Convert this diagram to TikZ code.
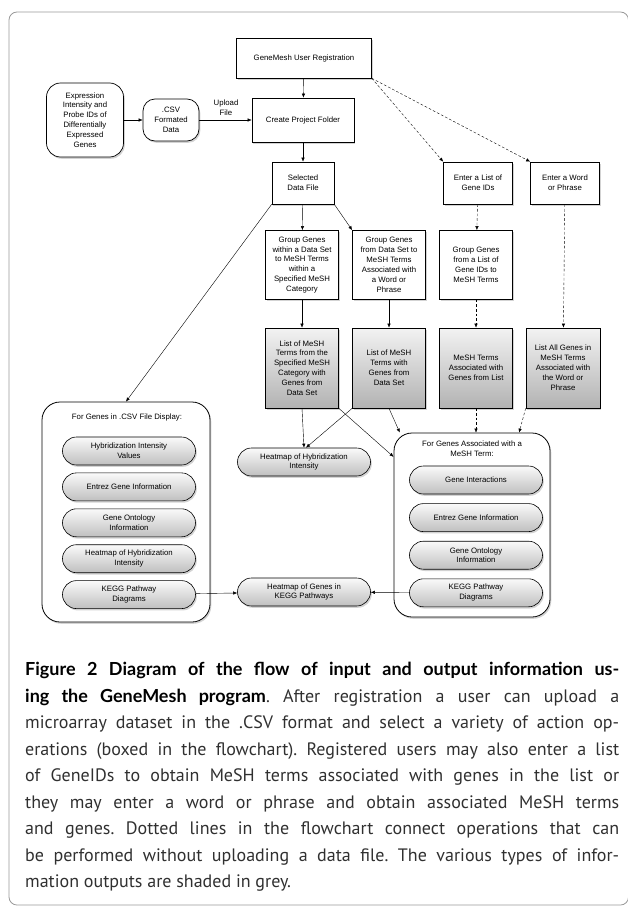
\documentclass[tikz,border=0pt]{standalone}
\usepackage{fontspec}
\usetikzlibrary{positioning,calc,arrows.meta,shadows,shapes.misc}
\newfontfamily\boxfont{Liberation Sans}
\newfontfamily\capfont{PT Sans}
\newfontfamily\capbold{Lato}
\definecolor{framegray}{HTML}{9A9A9A}
\definecolor{captext}{HTML}{303030}
\frenchspacing

\begin{document}
\begin{tikzpicture}[x=1pt,y=-1pt,
	>={Latex[length=4pt,width=3.4pt]},
	every node/.style={font=\boxfont\fontsize{7.8}{9.9}\selectfont, align=center},
	shade/.style={drop shadow={shadow xshift=1.3pt,shadow yshift=-1.8pt,opacity=0.35}},
	action/.style={draw, line width=0.7pt, fill=white, inner sep=1pt, shade},
	output/.style={action, top color=gray!10, bottom color=gray!60},
	pill/.style={draw, rounded rectangle, line width=0.6pt, minimum width=135pt, minimum height=28pt, inner sep=1pt, top color=gray!4, bottom color=gray!50, shade},
	holder/.style={draw, line width=0.8pt, fill=white, rounded corners=18pt, shade},
	dotline/.style={dash pattern=on 2.6pt off 2pt}]
	\useasboundingbox (0,0) rectangle (628,910);
	\draw[framegray, line width=0.8pt, rounded corners=8pt] (9,12) rectangle (628.5,905);
	
	\node[action, minimum width=135pt, minimum height=40pt] (r1) at (304,58) {GeneMesh User Registration};
	\node[draw, line width=0.7pt, fill=white, rounded corners=14pt, minimum width=77pt, minimum height=74pt, shade] (e1) at (85,120) {Expression\\Intensity and\\Probe IDs of\\Differentially\\Expressed\\Genes};
	\node[draw, line width=0.7pt, fill=white, rounded corners=12pt, minimum width=56pt, minimum height=42pt, shade] (e2) at (171,120) {.CSV\\Formated\\Data};
	\node[action, minimum width=102pt, minimum height=44pt] (p1) at (303,120) {Create Project Folder};
	\node (u1) at (226,108) {Upload\\File};
	
	\node[action, minimum width=62pt, minimum height=42pt] (s1) at (303,183) {Selected\\Data File};
	\node[action, minimum width=69pt, minimum height=42pt] (s2) at (478,183) {Enter a List of\\Gene IDs};
	\node[action, minimum width=69pt, minimum height=42pt] (s3) at (565,183) {Enter a Word\\or Phrase};
	
	\node[action, minimum width=73pt, minimum height=69pt] (g1) at (302,265) {Group Genes\\within a Data Set\\to MeSH Terms\\within a\\Specified MeSH\\Category};
	\node[action, minimum width=73pt, minimum height=69pt] (g2) at (389,265) {Group Genes\\from Data Set to\\MeSH Terms\\Associated with\\a Word or\\Phrase};
	\node[action, minimum width=73pt, minimum height=69pt] (g3) at (476,265) {Group Genes\\from a List of\\Gene IDs to\\MeSH Terms};
	
	\node[output, minimum width=73pt, minimum height=80pt] (o1) at (302,368) {List of MeSH\\Terms from the\\Specified MeSH\\Category with\\Genes from\\Data Set};
	\node[output, minimum width=73pt, minimum height=80pt] (o2) at (389,368) {List of MeSH\\Terms with\\Genes from\\Data Set};
	\node[output, minimum width=73pt, minimum height=80pt] (o3) at (476,368) {MeSH Terms\\Associated with\\Genes from List};
	\node[output, minimum width=74pt, minimum height=80pt] (o4) at (563,368) {List All Genes in\\MeSH Terms\\Associated with\\the Word or\\Phrase};
	
	\node[holder, minimum width=168pt, minimum height=220pt] (c1) at (126,512) {};
	\node[holder, minimum width=156pt, minimum height=184pt] (c2) at (472,525) {};
	\node (t1) at (127,417) {For Genes in .CSV File Display:};
	\node (t2) at (472,449) {For Genes Associated with a\\MeSH Term:};
	
	\node[pill] (l1) at (129,451) {Hybridization Intensity\\Values};
	\node[pill, below=7.3pt of l1] (l2) {Entrez Gene Information};
	\node[pill, below=7.3pt of l2] (l3) {Gene Ontology\\Information};
	\node[pill, below=7.3pt of l3] (l4) {Heatmap of Hybridization\\Intensity};
	\node[pill, below=7.3pt of l4] (l5) {KEGG Pathway\\Diagrams};
	
	\node[pill] (m1) at (476,480) {Gene Interactions};
	\node[pill, below=9pt of m1] (m2) {Entrez Gene Information};
	\node[pill, below=9pt of m2] (m3) {Gene Ontology\\Information};
	\node[pill, below=9pt of m3] (m4) {KEGG Pathway\\Diagrams};
	
	\node[pill] (h1) at (304,462) {Heatmap of Hybridization\\Intensity};
	\node[pill] (k1) at (304,592) {Heatmap of Genes in\\KEGG Pathways};
	
	\draw[->] (r1) -- (p1);
	\draw[->] (e1) -- (e2);
	\draw[->] (e2) -- (p1);
	\draw[->] (p1) -- (s1);
	\draw[->] (s1.south west) -- (c1.north);
	\draw[->] (s1) -- (g1);
	\draw[->] (s1.south east) -- (g2.north west);
	\draw[->] (g1) -- (o1);
	\draw[->] (g2) -- (o2);
	\draw[->] (o1.south) -- (h1.north);
	\draw[->] (o1.south east) -- (c2.139);
	\draw[->] (o2.south west) -- ($(h1.north)+(2,0)$);
	\draw[->] (o2.south) -- (c2.128);
	\draw[->] (l5) -- (k1);
	\draw[->] (m4) -- (k1);
	
	\draw[->, dotline] (r1.south east) -- (s2.north west);
	\draw[->, dotline] (r1.south east) -- (s3.north west);
	\draw[->, dotline] (s2) -- (g3);
	\draw[->, dotline] (s3) -- (o4);
	\draw[->, dotline] (g3) -- (o3);
	\draw[->, dotline] (o3.south) -- (o3.south |- c2.north);
	\draw[->, dotline] (o4.south west) -- (c2.63);
	
	\node[anchor=north west, text width=594pt, align=justify, inner sep=0pt, text=captext,
		font=\capfont\fontsize{18}{26.5}\selectfont] (f1) at (25,662)
		{{\capbold\bfseries\color{black}Figure 2 Diagram of the flow of input and output information us-\linebreak ing the GeneMesh program}. After registration a user can upload a\linebreak microarray dataset in the .CSV format and select a variety of action op-\linebreak erations (boxed in the flowchart). Registered users may also enter a list\linebreak of GeneIDs to obtain MeSH terms associated with genes in the list or\linebreak they may enter a word or phrase and obtain associated MeSH terms\linebreak and genes. Dotted lines in the flowchart connect operations that can\linebreak be performed without uploading a data file. The various types of infor-\linebreak mation outputs are shaded in grey.};
\end{tikzpicture}
\end{document}
